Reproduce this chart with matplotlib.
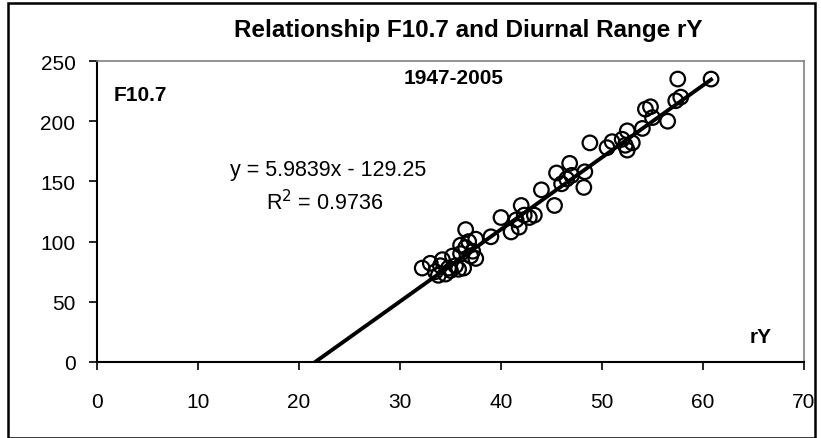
import matplotlib
matplotlib.use("Agg")
import matplotlib.pyplot as plt
import numpy as np
from matplotlib.patches import Rectangle

plt.rcParams['font.family'] = ['Liberation Sans', 'DejaVu Sans']

# Data: diurnal range rY (x) vs F10.7 (y), 1947-2005
rY = [32.2, 33.0, 33.5, 33.8, 34.0, 34.2, 34.5, 34.8, 35.0, 35.2, 35.5, 35.8,
      36.0, 36.0, 36.3, 36.5, 36.5, 36.8, 37.0, 37.2, 37.5, 37.5,
      39.0, 40.0, 41.0, 41.5, 41.8, 42.0, 42.3, 42.8, 43.3, 44.0, 45.3, 45.5,
      46.0, 46.5, 46.8, 47.0, 48.2, 48.3, 48.8, 50.5, 51.0, 52.0, 52.3, 52.5,
      52.5, 53.0, 54.0, 54.3, 54.8, 55.0, 56.5, 57.3, 57.5, 57.8, 60.8]
F107 = [78, 82, 75, 72, 80, 85, 73, 78, 76, 88, 80, 77,
        90, 97, 78, 95, 110, 100, 88, 92, 86, 102,
        104, 120, 108, 118, 112, 130, 122, 120, 122, 143, 130, 157,
        148, 152, 165, 155, 145, 158, 182, 178, 183, 185, 180, 192,
        176, 182, 194, 210, 212, 203, 200, 217, 235, 220, 235]

slope = 5.9839
intercept = -129.25
fit_x_range = [21.6, 60.8]

x_ticks = [0, 10, 20, 30, 40, 50, 60, 70]
y_ticks = [0, 50, 100, 150, 200, 250]

W, H = 821, 439
fig = plt.figure(figsize=(W / 100, H / 100), dpi=100)
ax = fig.add_axes([97 / W, 1 - 363 / H, (804 - 97) / W, (363 - 62) / H])

ax.scatter(rY, F107, s=110, facecolors='none', edgecolors='black', linewidths=1.6, zorder=3)
fx = np.linspace(fit_x_range[0], fit_x_range[1], 50)
ax.plot(fx, slope * fx + intercept, color='black', lw=2.8, zorder=4)

ax.set_xlim(0, 70)
ax.set_ylim(0, 250)
ax.set_xticks(x_ticks)
ax.set_yticks(y_ticks)
ax.tick_params(direction='out', length=5.5, width=1.2, labelsize=15)
ax.tick_params(axis='x', pad=16)
ax.tick_params(axis='y', pad=10)
for s in ['left', 'bottom']:
    ax.spines[s].set_color('black')
    ax.spines[s].set_linewidth(1.5)
for s in ['top', 'right']:
    ax.spines[s].set_color('#808080')
    ax.spines[s].set_linewidth(1.2)

fig.text(468 / W, 1 - 31 / H, 'Relationship F10.7 and Diurnal Range rY',
         ha='center', va='center', fontsize=17.5, fontweight='bold')
ax.text(1.6, 222, 'F10.7', ha='left', va='center', fontsize=15, fontweight='bold')
ax.text(35.3, 236, '1947-2005', ha='center', va='center', fontsize=15, fontweight='bold')
ax.text(66.8, 21, 'rY', ha='right', va='center', fontsize=15, fontweight='bold')
ax.text(22.9, 160, 'y = 5.9839x - 129.25', ha='center', va='center', fontsize=15.5)
ax.text(22.5, 133, 'R$^2$ = 0.9736', ha='center', va='center', fontsize=15.5)

fig.patches.append(Rectangle((8 / W, 0.0), (815 - 8) / W, 1 - 4 / H, transform=fig.transFigure,
                             fill=False, edgecolor='black', lw=1.8))

fig.savefig('out.png', dpi=100)
